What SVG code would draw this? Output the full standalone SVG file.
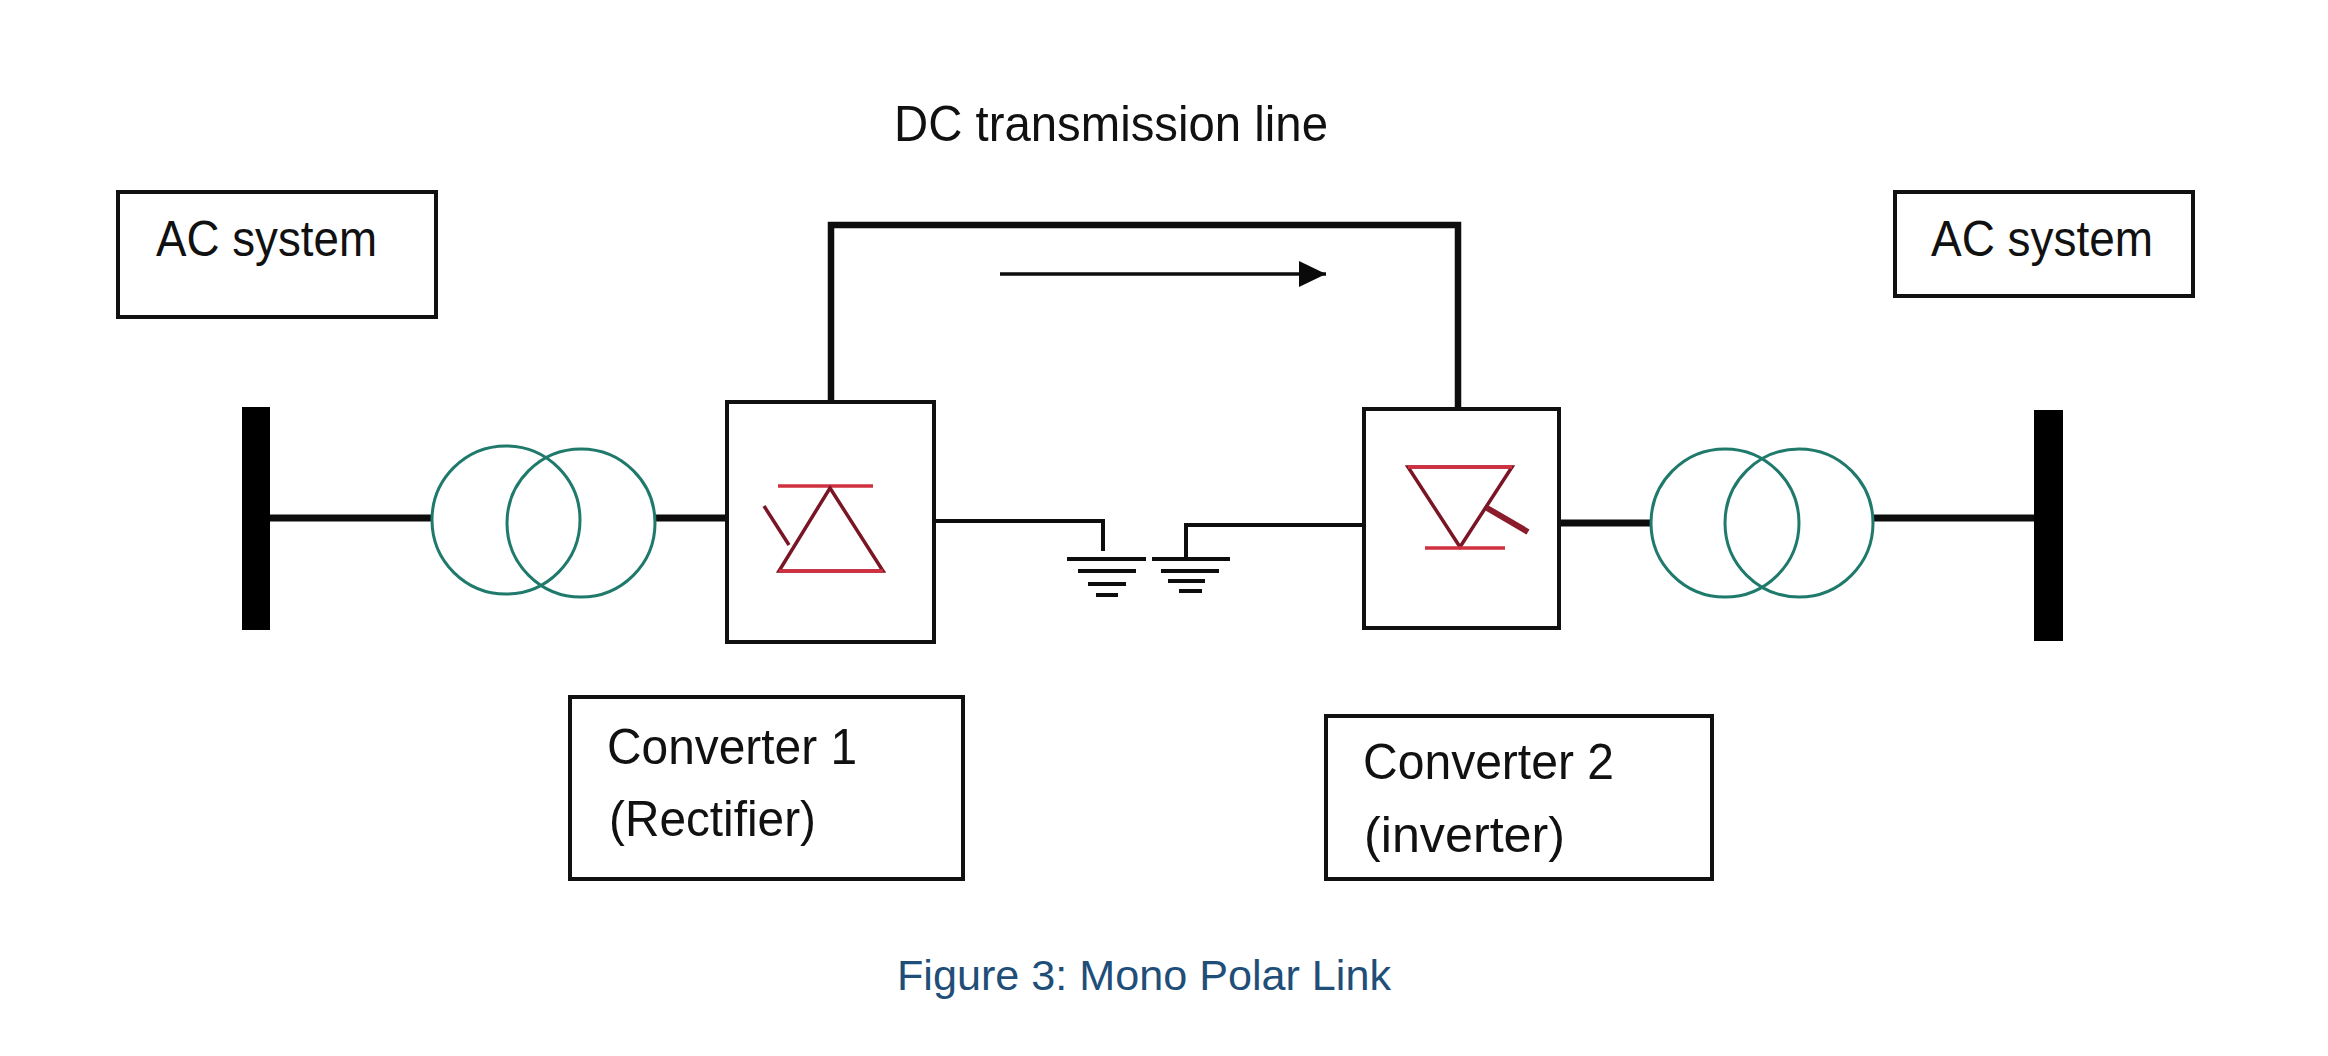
<svg xmlns="http://www.w3.org/2000/svg" width="2328" height="1056" viewBox="0 0 2328 1056">
<defs>
<marker id="arrow" markerUnits="userSpaceOnUse" markerWidth="28" markerHeight="28" refX="27" refY="13" orient="auto"><path d="M0 0L27 13L0 26Z" fill="#0a0a0a"/></marker>
</defs>
<style>
.box{fill:#fff;stroke:#111;stroke-width:4}
.t{font-family:"Liberation Sans",Arial,sans-serif;font-size:50px;fill:#111}
.cap{font-family:"Liberation Sans",Arial,sans-serif;font-size:42px;fill:#1f4e79}
.tx{fill:none;stroke:#1f7a6c;stroke-width:3}
.red{fill:none;stroke:#d0303f;stroke-width:3.5}
.dark{fill:none;stroke:#7a1526;stroke-width:3.5}
.w{fill:none;stroke:#0d0d0d;stroke-linecap:butt;stroke-linejoin:miter}
</style>
<rect width="2328" height="1056" fill="#fff"/>
<g id="connectors">
<path class="w" stroke-width="7" d="M270 518H433"/>
<path class="w" stroke-width="7" d="M655 518H727"/>
<path class="w" stroke-width="4" d="M935 521H1103V551"/>
<path class="w" stroke-width="4" d="M1363 525H1186V559"/>
<path class="w" stroke-width="7" d="M1559 523H1650"/>
<path class="w" stroke-width="7" d="M1874 518H2035"/>
<path class="w" stroke-width="6.5" d="M831 402V225H1458V409"/>
<path class="w" stroke-width="3.5" d="M1000 274H1326" marker-end="url(#arrow)"/>
</g>
<g id="dc-label"><text class="t" x="894" y="141" textLength="434" lengthAdjust="spacingAndGlyphs">DC transmission line</text></g>
<g id="ac-system-left"><rect class="box" x="118" y="192" width="318" height="125"/><text class="t" x="156" y="256" textLength="221" lengthAdjust="spacingAndGlyphs">AC system</text></g>
<g id="ac-system-right"><rect class="box" x="1895" y="192" width="298" height="104"/><text class="t" x="1931" y="256" textLength="222" lengthAdjust="spacingAndGlyphs">AC system</text></g>
<g id="bus-left"><rect x="242" y="407" width="28" height="223" fill="#000"/></g>
<g id="bus-right"><rect x="2034" y="410" width="29" height="231" fill="#000"/></g>
<g id="transformer-left"><circle class="tx" cx="506" cy="520" r="74"/><circle class="tx" cx="581" cy="523" r="74"/></g>
<g id="transformer-right"><circle class="tx" cx="1725" cy="523" r="74"/><circle class="tx" cx="1799" cy="523" r="74"/></g>
<g id="converter-1-block"><rect class="box" x="727" y="402" width="207" height="240"/>
<path class="red" d="M778 486H873"/><path class="dark" d="M830 488L883 571H779Z"/><path class="red" d="M779 571H883"/><path class="dark" d="M764 506L789 545"/></g>
<g id="converter-2-block"><rect class="box" x="1364" y="409" width="195" height="219"/>
<path class="dark" d="M1408 467H1512L1460 547Z"/><path class="red" d="M1408 467H1512"/><path class="red" d="M1425 548H1505"/><path fill="none" stroke="#8a1c2c" stroke-width="6" d="M1487 508L1528 532"/></g>
<g id="ground-1"><path class="w" stroke-width="4" d="M1067 559H1146"/><path class="w" stroke-width="4" d="M1078 571H1136"/><path class="w" stroke-width="4" d="M1088 584H1126"/><path class="w" stroke-width="4" d="M1096 595H1118"/></g>
<g id="ground-2"><path class="w" stroke-width="4" d="M1152 559H1230"/><path class="w" stroke-width="4" d="M1161 571H1219"/><path class="w" stroke-width="4" d="M1168 581H1205"/><path class="w" stroke-width="4" d="M1179 591H1202"/></g>
<g id="converter-1"><rect class="box" x="570" y="697" width="393" height="182"/><text class="t" x="607" y="764" textLength="250" lengthAdjust="spacingAndGlyphs">Converter 1</text><text class="t" x="609" y="836" textLength="207" lengthAdjust="spacingAndGlyphs">(Rectifier)</text></g>
<g id="converter-2"><rect class="box" x="1326" y="716" width="386" height="163"/><text class="t" x="1363" y="779" textLength="251" lengthAdjust="spacingAndGlyphs">Converter 2</text><text class="t" x="1364" y="852" textLength="201" lengthAdjust="spacingAndGlyphs">(inverter)</text></g>
<g id="caption"><text class="cap" x="897" y="990" textLength="494" lengthAdjust="spacingAndGlyphs">Figure 3: Mono Polar Link</text></g>
</svg>
